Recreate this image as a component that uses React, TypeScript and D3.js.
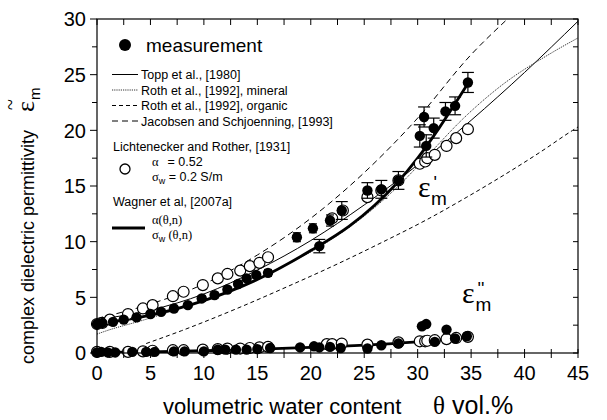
import React from "react";
import * as d3 from "d3";

// ---- data (theta vol.%, permittivity) ----
const xTicks = [0, 5, 10, 15, 20, 25, 30, 35, 40, 45];
const yTicks = [0, 5, 10, 15, 20, 25, 30];

// measurement eps' : [theta, eps, err]
const measReal: [number, number, number][] = [
  [0, 2.6, 0.2], [0.5, 2.7, 0.2], [1.5, 2.8, 0.2], [2.5, 3.0, 0.2], [3.7, 3.2, 0.2],
  [5.0, 3.5, 0.2], [6.0, 3.7, 0.2], [7.2, 4.0, 0.2], [8.5, 4.3, 0.2], [9.8, 4.9, 0.25],
  [11.0, 5.2, 0.25], [12.2, 5.7, 0.25], [13.2, 6.2, 0.25], [14.0, 6.7, 0.25], [14.9, 7.0, 0.25],
  [16.0, 7.2, 0.3], [18.7, 10.4, 0.4], [20.2, 11.2, 0.4], [20.8, 9.6, 0.6], [21.8, 11.9, 0.5],
  [22.9, 12.8, 0.8], [25.3, 14.6, 0.7], [26.6, 14.7, 0.8], [28.2, 15.5, 0.8], [30.2, 19.5, 1.0],
  [30.6, 21.2, 0.9], [30.8, 18.6, 1.0], [31.5, 20.2, 0.9], [32.6, 21.7, 0.8], [33.5, 22.2, 0.8],
  [34.7, 24.3, 0.9],
];
// measurement eps''
const measImag: [number, number, number][] = [
  [0, 0.05, 0.1], [0.4, 0.1, 0.1], [1.0, 0.05, 0.1], [1.7, 0.05, 0.1], [3.3, 0.1, 0.1],
  [4.6, 0.1, 0.1], [5.4, 0.1, 0.1], [7.2, 0.15, 0.1], [8.2, 0.15, 0.1], [10.0, 0.15, 0.1],
  [11.3, 0.3, 0.1], [12.0, 0.3, 0.1], [13.0, 0.3, 0.1], [14.0, 0.3, 0.1], [15.0, 0.35, 0.1],
  [16.2, 0.45, 0.1], [19.0, 0.5, 0.1], [20.3, 0.6, 0.1], [20.8, 0.5, 0.1], [21.8, 0.55, 0.1],
  [22.8, 0.45, 0.1], [25.3, 0.4, 0.1], [26.6, 0.7, 0.1], [28.2, 0.85, 0.1], [30.4, 2.4, 0.15],
  [30.8, 2.6, 0.15], [31.6, 1.0, 0.1], [32.7, 2.1, 0.15], [33.5, 1.3, 0.1], [34.6, 1.5, 0.1],
];
// Lichtenecker & Rother eps'
const lrReal: [number, number][] = [
  [0, 2.6], [0.5, 2.7], [1.2, 3.0], [2.9, 3.5], [4.3, 4.0], [5.2, 4.3], [7.1, 5.1], [8.1, 5.5],
  [9.9, 6.1], [11.3, 6.7], [12.2, 7.1], [13.4, 7.4], [14.3, 7.8], [15.2, 8.1], [16.0, 8.6],
  [22.0, 12.1], [23.0, 12.8], [25.3, 14.0], [26.6, 14.6], [28.2, 15.5], [30.2, 17.0], [30.7, 17.2],
  [30.9, 17.5], [31.6, 17.8], [32.7, 18.6], [33.6, 19.3], [34.7, 20.1],
];
// Lichtenecker & Rother eps''
const lrImag: [number, number][] = [
  [0, 0.1], [1.2, 0.1], [2.9, 0.1], [4.3, 0.15], [5.2, 0.2], [7.1, 0.25], [8.1, 0.25], [9.9, 0.3],
  [11.3, 0.35], [12.2, 0.4], [13.4, 0.4], [14.3, 0.45], [15.2, 0.5], [16.0, 0.55], [21.5, 0.8],
  [22.0, 0.8], [22.9, 0.85], [25.3, 0.75], [28.2, 0.95], [30.2, 1.05], [30.7, 1.05], [30.9, 1.1],
  [31.6, 1.15], [32.7, 1.25], [33.6, 1.35], [34.7, 1.45],
];
// model curves
const topp: [number, number][] = [
  [0, 3.0], [5, 3.85], [10, 5.3], [15, 7.45], [20, 10.1], [25, 13.3], [30, 16.9], [35, 20.9], [40, 25.2], [45, 29.8],
];
const rothMineral: [number, number][] = [
  [0, 1.7], [0.9, 2], [4.5, 3], [7.75, 4], [10.7, 5], [13.4, 6], [17.9, 8], [21.6, 10], [24.6, 12],
  [28.2, 15], [31.2, 18], [34.2, 21], [37.8, 24], [42.6, 27], [45, 28.3],
];
const rothOrganic: [number, number][] = [
  [4.6, 0.85], [7.9, 2], [13.1, 4], [17.9, 6], [22.5, 8], [26.8, 10], [30.9, 12], [34.6, 14],
  [38.1, 16], [41.4, 18], [44.5, 20], [45, 20.3],
];
const jacobsen: [number, number][] = [
  [0, 3.1], [5, 4.4], [10, 6.2], [15, 8.8], [20, 12.1], [25, 16.2], [30, 21.1], [35, 26.8], [38.4, 30],
];
const wagnerReal: [number, number][] = [
  [0, 2.6], [5, 3.4], [10, 4.7], [15, 6.6], [20, 9.2], [23.6, 11.4], [26, 13.3], [28, 15.2],
  [30, 17.5], [32, 20.2], [34.7, 24.2],
];
const wagnerImag: [number, number][] = [
  [0, 0.05], [5, 0.1], [10, 0.2], [15, 0.35], [20, 0.5], [25, 0.7], [30, 1.0], [34.7, 1.4],
];

const SANS = "'Liberation Sans', Arial, sans-serif";
const SERIF = "'Liberation Serif', 'Times New Roman', serif";

export default function App() {
  const left = 97, right = 578, top = 19, bottom = 353;
  const x = d3.scaleLinear().domain([0, 45]).range([left, right]);
  const y = d3.scaleLinear().domain([0, 30]).range([bottom, top]);
  const line = d3
    .line<[number, number]>()
    .x((d) => x(d[0]))
    .y((d) => y(d[1]))
    .curve(d3.curveMonotoneX);

  const minorX = d3.range(0, 45.01, 2.5);
  const minorY = d3.range(0, 30.01, 2.5);

  const errBar = (d: [number, number, number], i: number, key: string) => {
    const cx = x(d[0]);
    const cap = d[2] > 0.5 ? 6 : 4;
    return (
      <g key={key + i} stroke="#000" strokeWidth={1.2}>
        <line x1={cx} x2={cx} y1={y(d[1] - d[2])} y2={y(d[1] + d[2])} />
        <line x1={cx - cap} x2={cx + cap} y1={y(d[1] - d[2])} y2={y(d[1] - d[2])} />
        <line x1={cx - cap} x2={cx + cap} y1={y(d[1] + d[2])} y2={y(d[1] + d[2])} />
      </g>
    );
  };

  return (
    <svg
      width={607}
      height={420}
      style={{ position: "absolute", left: 0, top: 0, background: "#fff" }}
    >
      <defs>
        <clipPath id="plot">
          <rect x={left} y={top} width={right - left} height={bottom - top} />
        </clipPath>
      </defs>
      <rect x={0} y={0} width={607} height={420} fill="#fff" />

      {/* model curves */}
      <g clipPath="url(#plot)" fill="none">
        <path d={line(topp) || ""} stroke="#000" strokeWidth={1} />
        <path d={line(rothMineral) || ""} stroke="#333" strokeWidth={1} strokeDasharray="1.2 1" />
        <path d={line(rothOrganic) || ""} stroke="#000" strokeWidth={1} strokeDasharray="4 3" />
        <path d={line(jacobsen) || ""} stroke="#000" strokeWidth={1} strokeDasharray="6 4" />
        <path d={line(wagnerReal) || ""} stroke="#000" strokeWidth={2.8} />
        <path d={line(wagnerImag) || ""} stroke="#000" strokeWidth={2.8} />
      </g>

      {/* Lichtenecker & Rother open circles */}
      <g fill="#fff" stroke="#000" strokeWidth={1.2}>
        {lrReal.map((d, i) => (
          <circle key={"lr" + i} cx={x(d[0])} cy={y(d[1])} r={5.5} />
        ))}
        {lrImag.map((d, i) => (
          <circle key={"li" + i} cx={x(d[0])} cy={y(d[1])} r={5.5} />
        ))}
      </g>

      {/* measurements */}
      {measReal.map((d, i) => errBar(d, i, "er"))}
      {measImag.map((d, i) => errBar(d, i, "ei"))}
      <g fill="#000">
        {measReal.map((d, i) => (
          <circle key={"mr" + i} cx={x(d[0])} cy={y(d[1])} r={5.2} />
        ))}
        {measImag.map((d, i) => (
          <circle key={"mi" + i} cx={x(d[0])} cy={y(d[1])} r={5.2} />
        ))}
      </g>

      {/* frame */}
      <rect x={left} y={top} width={right - left} height={bottom - top} fill="none" stroke="#000" strokeWidth={1.2} />

      {/* ticks */}
      <g stroke="#000" strokeWidth={1}>
        {minorY.map((v, i) => (
          <line key={"yl" + i} x1={left} x2={left - (v % 5 === 0 ? 7 : 5)} y1={y(v)} y2={y(v)} />
        ))}
        {minorY.map((v, i) => (
          <line key={"yr" + i} x1={right} x2={right - 5} y1={y(v)} y2={y(v)} />
        ))}
        {minorX.map((v, i) => (
          <line key={"xt" + i} x1={x(v)} x2={x(v)} y1={top} y2={top + 6} />
        ))}
        {minorX.map((v, i) => (
          <line key={"xb" + i} x1={x(v)} x2={x(v)} y1={bottom - 4} y2={bottom + 5} />
        ))}
      </g>

      {/* tick labels */}
      <g fontFamily={SANS} fontSize={20} fill="#000">
        {yTicks.map((v) => (
          <text key={"ytl" + v} x={86} y={y(v)} dy="0.36em" textAnchor="end">
            {v}
          </text>
        ))}
        {xTicks.map((v) => (
          <text key={"xtl" + v} x={x(v)} y={380} textAnchor="middle">
            {v}
          </text>
        ))}
      </g>

      {/* axis titles */}
      <text x={163} y={414} fontFamily={SANS} fontSize={22}>
        volumetric water content
      </text>
      <text x={433} y={414} fontFamily={SERIF} fontSize={25}>
        θ
      </text>
      <text x={452} y={414} fontFamily={SANS} fontSize={25}>
        vol.%
      </text>

      <g transform="translate(34,364) rotate(-90)">
        <text x={0} y={0} fontFamily={SANS} fontSize={18}>
          complex dielectric permittivity
        </text>
        <text x={252} y={0} fontFamily={SERIF} fontSize={26}>
          ε
          <tspan fontFamily={SANS} fontSize={15} dx={1} dy={6}>m</tspan>
        </text>
        <text x={254} y={-17} fontFamily={SERIF} fontSize={20}>
          ~
        </text>
      </g>

      {/* curve labels */}
      <text x={418} y={197} fontFamily={SERIF} fontSize={30}>
        ε
        <tspan fontFamily={SANS} fontSize={18} dx={3} dy={-8}>'</tspan>
        <tspan fontFamily={SANS} fontSize={19} dx={-6} dy={16}>m</tspan>
      </text>
      <text x={462} y={303} fontFamily={SERIF} fontSize={30}>
        ε
        <tspan fontFamily={SANS} fontSize={18} dx={3} dy={-8}>''</tspan>
        <tspan fontFamily={SANS} fontSize={19} dx={-9} dy={16}>m</tspan>
      </text>

      {/* legend */}
      <circle cx={125} cy={45} r={6} fill="#000" />
      <text x={146} y={52} fontFamily={SANS} fontSize={19}>measurement</text>

      <g stroke="#000" strokeWidth={1} fill="none">
        <line x1={112} x2={138} y1={74.5} y2={74.5} />
        <line x1={112} x2={138} y1={90} y2={90} stroke="#333" strokeDasharray="1.2 1" />
        <line x1={112} x2={138} y1={105.5} y2={105.5} strokeDasharray="4 3" />
        <line x1={112} x2={138} y1={121} y2={121} strokeDasharray="6 4" />
      </g>
      <g fontFamily={SANS} fontSize={12.5} fill="#000">
        <text x={141} y={79}>Topp et al., [1980]</text>
        <text x={141} y={94.5}>Roth et al., [1992], mineral</text>
        <text x={141} y={110}>Roth et al., [1992], organic</text>
        <text x={141} y={125.5}>Jacobsen and Schjoenning, [1993]</text>
        <text x={113} y={151}>Lichtenecker and Rother, [1931]</text>
        <text x={152} y={166}>
          <tspan fontFamily={SERIF}>α</tspan>
          <tspan dx={9}>= 0.52</tspan>
        </text>
        <text x={152} y={181}>
          <tspan fontFamily={SERIF}>σ</tspan>
          <tspan fontSize={9} dy={3}>w</tspan>
          <tspan dy={-3}> = 0.2 S/m</tspan>
        </text>
        <text x={113} y={206}>Wagner et al, [2007a]</text>
        <text x={152} y={224} fontFamily={SERIF}>α(θ,n)</text>
        <text x={152} y={239}>
          <tspan fontFamily={SERIF}>σ</tspan>
          <tspan fontSize={9} dy={3}>w</tspan>
          <tspan dy={-3} fontFamily={SERIF}> (θ,n)</tspan>
        </text>
      </g>
      <circle cx={125} cy={169} r={5} fill="#fff" stroke="#000" strokeWidth={1.3} />
      <line x1={112} x2={145} y1={228} y2={228} stroke="#000" strokeWidth={3} />
    </svg>
  );
}
